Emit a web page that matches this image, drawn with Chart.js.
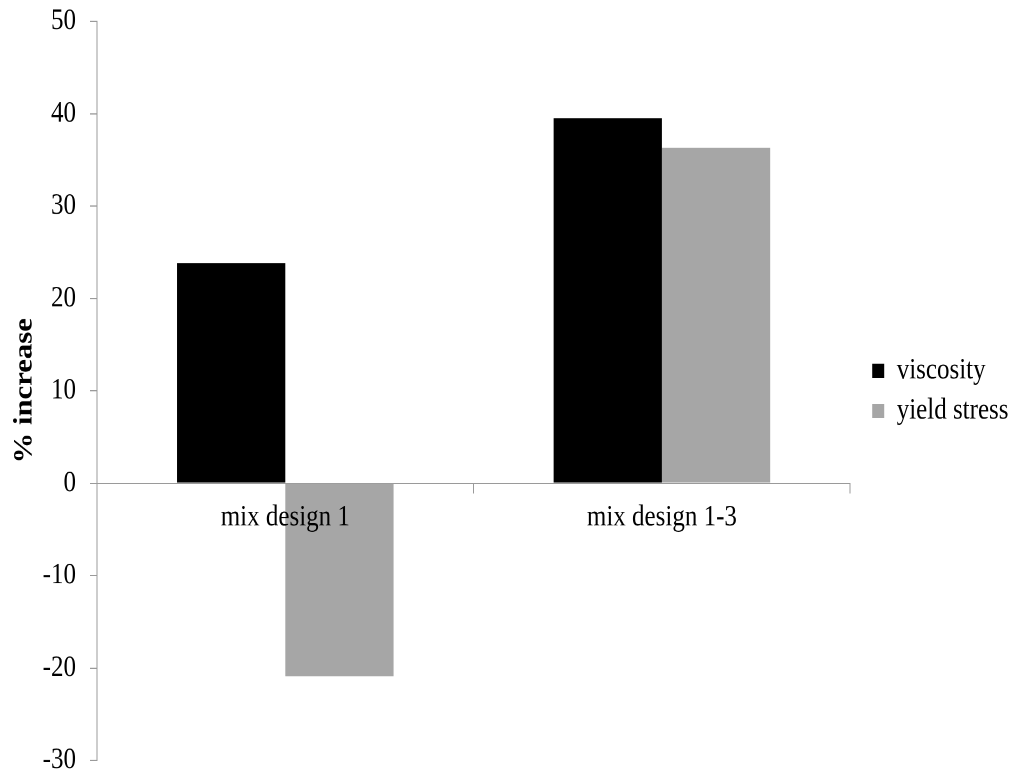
<!DOCTYPE html>
<html>
<head>
<meta charset="utf-8">
<title>% increase by mix design</title>
<script src="https://cdn.jsdelivr.net/npm/chart.js@4/dist/chart.umd.min.js"></script>
<style>
  html, body { margin: 0; padding: 0; background: #ffffff; overflow: hidden; }
  #page { width: 1016px; height: 778px; overflow: hidden; }
  /* the figure is laid out 1016x659 and shown 18% taller, as printed */
  #wrap { width: 1016px; height: 659px; transform: scaleY(1.18058); transform-origin: 0 0; }
</style>
</head>
<body>
<div id="page"><div id="wrap"><canvas id="chart" width="1016" height="659"></canvas></div></div>
<script>
// Category labels and the two measured series (% increase)
const categories = ['mix design 1', 'mix design 1-3'];
const viscosity = [23.8, 39.5];
const yieldStress = [-20.9, 36.3];

// Value-axis range and step
const yMin = -30;
const yMax = 50;
const yStep = 10;

const serif = '"Liberation Serif", "Times New Roman", serif';
const axisGrey = '#9a9a9a';

// nudge the legend a little away from the plot edge
const legendGap = {
  id: 'legendGap',
  afterLayout(chart) {
    if (chart.legend) {
      chart.legend.left += 13;
      chart.legend.right += 13;
    }
  }
};

new Chart(document.getElementById('chart'), {
  type: 'bar',
  data: {
    labels: categories,
    datasets: [
      { label: 'viscosity', data: viscosity, backgroundColor: '#000000', borderWidth: 0 },
      { label: 'yield stress', data: yieldStress, backgroundColor: '#a6a6a6', borderWidth: 0 }
    ]
  },
  plugins: [legendGap],
  options: {
    responsive: false,
    animation: false,
    devicePixelRatio: 2,
    layout: { padding: { top: 18, bottom: 15, left: 3, right: 10.5 } },
    datasets: { bar: { categoryPercentage: 0.575, barPercentage: 1.0 } },
    plugins: {
      tooltip: { enabled: false },
      legend: {
        position: 'right',
        align: 'center',
        labels: {
          boxWidth: 12,
          boxHeight: 12,
          padding: 9,
          color: '#000000',
          font: { family: serif, size: 25 }
        }
      }
    },
    scales: {
      x: {
        position: { y: 0 },
        grid: {
          drawOnChartArea: false,
          drawTicks: true,
          tickLength: 8,
          color: axisGrey,
          offset: true
        },
        border: { color: axisGrey, width: 1 },
        ticks: {
          z: 1, // category names sit on top of the bars
          color: '#000000',
          padding: 6,
          font: { family: serif, size: 25 }
        }
      },
      y: {
        min: yMin,
        max: yMax,
        afterFit(scale) {
          scale.width = 94;
          scale.paddingTop = 0;
          scale.paddingBottom = 0;
        },
        grid: {
          drawOnChartArea: false,
          drawTicks: true,
          tickLength: 7,
          color: axisGrey
        },
        border: { color: axisGrey, width: 1 },
        ticks: {
          stepSize: yStep,
          color: '#000000',
          padding: 14,
          font: { family: serif, size: 25 }
        },
        title: {
          display: true,
          text: '% increase',
          color: '#000000',
          padding: { top: 6, bottom: 4 },
          font: { family: serif, size: 26, weight: 'bold' }
        }
      }
    }
  }
});
</script>
</body>
</html>
